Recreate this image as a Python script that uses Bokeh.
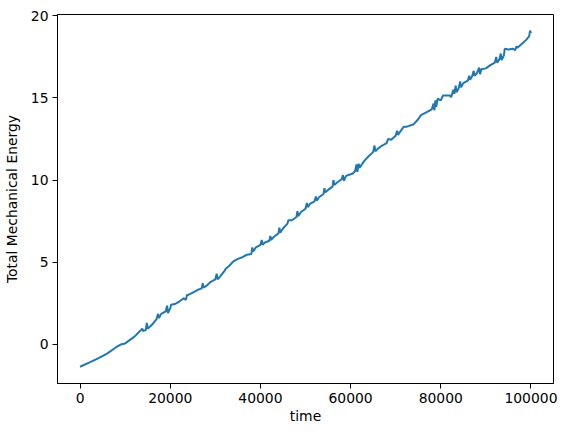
from bokeh.plotting import figure
from bokeh.models import ColumnDataSource, FixedTicker, BasicTickFormatter, Range1d
from bokeh.embed import file_html
from bokeh.resources import INLINE


# time and total mechanical energy
time = [
    0, 2000, 4000, 6000, 8000, 9000, 10000, 11000, 12000, 13000,
    13800, 14000, 14600, 14800, 15000, 16000, 17000, 17300, 17500, 18000,
    19000, 19300, 19500, 20000, 20200, 21000, 22000, 23000, 23500, 23700,
    24000, 25000, 26000, 27000, 27200, 27400, 28000, 29000, 30000, 30300,
    30500, 31000, 32000, 32300, 33000, 34000, 35000, 36000, 37000, 38000,
    38200, 38400, 39000, 40000, 40300, 40500, 41000, 42000, 42200, 42400,
    43000, 44000, 44200, 44400, 45000, 46000, 46200, 47000, 48000, 48200,
    48400, 49000, 50000, 50300, 50500, 51000, 52000, 52300, 52500, 53000,
    54000, 54200, 54400, 55000, 56000, 56200, 56400, 57000, 58000, 58300,
    58500, 59000, 60000, 60500, 61000, 61300, 61500, 61800, 62000, 63000,
    64000, 65000, 65300, 65500, 66000, 67000, 68000, 68300, 69000, 70000,
    70300, 70500, 71000, 71800, 72500, 74000, 75000, 75600, 77000, 78000,
    78400, 78600, 78800, 79000, 79300, 80000, 80500, 82000, 82300, 82800,
    83000, 83300, 83500, 84000, 84300, 84500, 85000, 86000, 86300, 86500,
    87000, 87300, 87500, 88000, 88500, 88700, 89000, 90000, 91000, 92000,
    92300, 92500, 93000, 93300, 93500, 94000, 94200, 95000, 96000, 96500,
    96800, 97000, 98000, 99000, 99300, 99600, 99800, 100000,
]
energy = [
    -1.37, -1.12, -0.86, -0.57, -0.18, -0.02, 0.05, 0.25, 0.45, 0.72,
    0.95, 0.8, 0.88, 1.3, 0.95, 1.2, 1.55, 1.85, 1.6, 1.85,
    2.0, 2.35, 1.9, 2.2, 2.4, 2.45, 2.6, 2.8, 2.7, 3.0,
    3.0, 3.15, 3.3, 3.4, 3.72, 3.45, 3.55, 3.8, 3.95, 4.3,
    3.95, 4.1, 4.45, 4.6, 4.75, 5.05, 5.2, 5.3, 5.45, 5.5,
    5.9, 5.65, 5.9, 6.05, 6.35, 6.05, 6.2, 6.3, 6.6, 6.35,
    6.55, 6.75, 7.1, 6.8, 7.05, 7.35, 7.55, 7.55, 7.75, 8.1,
    7.8, 8.05, 8.25, 8.6, 8.35, 8.55, 8.7, 9.0, 8.75, 8.95,
    9.15, 9.5, 9.25, 9.4, 9.6, 10.0, 9.7, 9.85, 10.05, 10.3,
    9.95, 10.25, 10.35, 10.4, 10.55, 10.95, 10.5, 11.0, 10.75, 11.15,
    11.45, 11.7, 12.1, 11.75, 11.9, 12.1, 12.25, 12.5, 12.45, 12.7,
    13.0, 12.75, 12.95, 13.25, 13.25, 13.4, 13.7, 13.95, 14.15, 14.3,
    14.65, 14.25, 14.85, 14.45, 14.95, 14.85, 15.15, 15.15, 15.05, 15.5,
    15.25, 15.75, 15.35, 15.6, 16.0, 15.65, 15.9, 16.05, 16.35, 16.1,
    16.35, 16.65, 16.35, 16.5, 16.85, 16.45, 16.75, 16.8, 17.0, 17.15,
    17.5, 17.15, 17.35, 17.7, 17.3, 17.6, 18.0, 17.95, 18.0, 17.9,
    18.15, 18.05, 18.3, 18.55, 18.65, 18.75, 19.1, 18.95,
]
x_ticks = [0, 20000, 40000, 60000, 80000, 100000]
y_ticks = [0, 5, 10, 15, 20]

source = ColumnDataSource(data=dict(time=time, energy=energy))

p = figure(
    width=559, height=428,
    x_range=Range1d(-5000, 105000),
    y_range=Range1d(-2.39, 20.08),
    x_axis_label='time',
    y_axis_label='Total Mechanical Energy',
    output_backend="svg",
    toolbar_location=None,
    min_border_left=57, min_border_right=6,
    min_border_top=14, min_border_bottom=45,
)

p.line(x='time', y='energy', source=source, line_color='#1f77b4', line_width=2)

p.xaxis.ticker = FixedTicker(ticks=x_ticks)
p.yaxis.ticker = FixedTicker(ticks=y_ticks)
p.xaxis.formatter = BasicTickFormatter(use_scientific=False)

for ax in [p.xaxis, p.yaxis]:
    ax.axis_line_color = 'black'
    ax.major_tick_line_color = 'black'
    ax.major_tick_out = 5
    ax.major_tick_in = 0
    ax.minor_tick_line_color = None
    ax.major_label_text_font = 'DejaVu Sans'
    ax.major_label_text_font_size = '13.9px'
    ax.major_label_text_color = 'black'
    ax.major_label_standoff = 4
    ax.axis_label_text_font = 'DejaVu Sans'
    ax.axis_label_text_font_size = '13.9px'
    ax.axis_label_text_font_style = 'normal'
    ax.axis_label_text_color = 'black'

p.xaxis.axis_label_standoff = 2
p.yaxis.axis_label_standoff = 8

p.xgrid.grid_line_color = None
p.ygrid.grid_line_color = None
p.outline_line_color = 'black'
p.outline_line_alpha = 1
p.background_fill_color = 'white'
p.border_fill_color = 'white'

open("out.html", "w").write(file_html(p, INLINE))
